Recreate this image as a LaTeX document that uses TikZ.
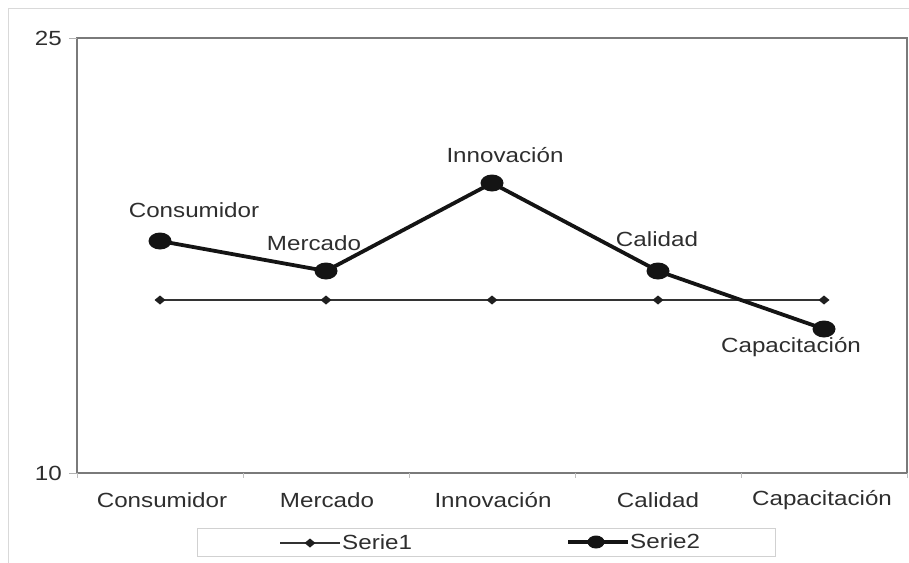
\documentclass[tikz,border=0pt]{standalone}
\usepackage{fontspec}
\setmainfont{Liberation Sans}[FakeStretch=1.18]
\usetikzlibrary{positioning}

\tikzset{
  plotframe/.style={draw=black!52, line width=2.4pt},
  serieone/.style={draw=black!80, line width=1.3pt},
  serietwo/.style={draw=black!92, line width=3.8pt, line join=round},
  lbl/.style={text=black!82, font=\fontsize{20.5}{22}\selectfont, inner sep=0pt},
}
\newcommand\rombo[1]{\fill[black!88] (#1) +(-5.5,0) -- +(0,-4.5) -- +(5.5,0) -- +(0,4.5) -- cycle;}
\newcommand\punto[1]{\fill[black!92] (#1) ellipse (11.5 and 8.5);}

\begin{document}
\begin{tikzpicture}[x=1pt,y=-1pt]
      \useasboundingbox (0,0) rectangle (909,562);
      \draw[black!15, line width=1pt] (8.5,8.5) rectangle (940,590);

      % plot area and ticks
      \draw[plotframe] (77,38) rectangle (907,473);
      \draw[black!30, line width=1pt] (69,38) -- (77,38) (69,473) -- (77,473);
      \draw[black!25, line width=1pt]
      (77,473) -- (77,478)   (243,473) -- (243,478) (409,473) -- (409,478)
      (575,473) -- (575,478) (741,473) -- (741,478) (907,473) -- (907,478);
      \node[lbl, anchor=east] (y25) at (62,38) {25};
      \node[lbl, anchor=east] (y10) at (62,473) {10};

      % category axis
      \node[lbl] (cat1) at (162,500) {Consumidor};
      \node[lbl] (cat2) at (327,500) {Mercado};
      \node[lbl] (cat3) at (493,500) {Innovación};
      \node[lbl] (cat4) at (658,500) {Calidad};
      \node[lbl] (cat5) at (822,500) {Capacitación};

      % Serie1
      \coordinate (a1) at (160,300);
      \coordinate (a2) at (326,300);
      \coordinate (a3) at (492,300);
      \coordinate (a4) at (658,300);
      \coordinate (a5) at (824,300);
      \draw[serieone] (a1) -- (a2) -- (a3) -- (a4) -- (a5);
      \rombo{a1} \rombo{a2} \rombo{a3} \rombo{a4} \rombo{a5}

      % Serie2
      \coordinate (b1) at (160,241);
      \coordinate (b2) at (326,271);
      \coordinate (b3) at (492,183);
      \coordinate (b4) at (658,271);
      \coordinate (b5) at (824,329);
      \draw[serietwo] (b1) -- (b2) -- (b3) -- (b4) -- (b5);
      \punto{b1} \punto{b2} \punto{b3} \punto{b4} \punto{b5}

      \node[lbl] (l1) at (194,210) {Consumidor};
      \node[lbl] (l2) at (314,243) {Mercado};
      \node[lbl] (l3) at (505,155) {Innovación};
      \node[lbl] (l4) at (657,239) {Calidad};
      \node[lbl] (l5) at (791,347) {Capacitación};

      % legend
      \draw[black!18, line width=1pt] (197,528) rectangle (775,556);
      \coordinate (k1) at (280,543);
      \coordinate (k2) at (340,543);
      \coordinate (km1) at (310,543);
      \draw[serieone] (k1) -- (k2);
      \rombo{km1}
      \node[lbl, anchor=west] (s1) at (342,542) {Serie1};
      \coordinate (k3) at (568,542);
      \coordinate (k4) at (628,542);
      \coordinate (km2) at (596,542);
      \draw[serietwo] (k3) -- (k4);
      \fill[black!92] (km2) ellipse (8.5 and 6.5);
      \node[lbl, anchor=west] (s2) at (630,541) {Serie2};
    \end{tikzpicture}
\end{document}
